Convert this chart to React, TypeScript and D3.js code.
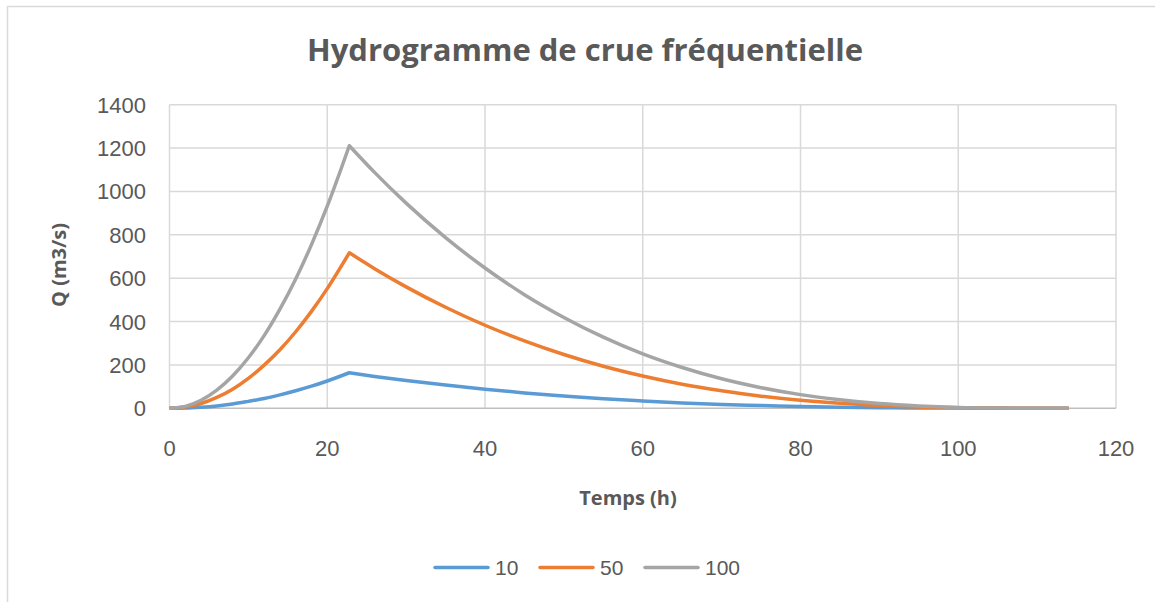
import { useRef, useEffect } from "react";
import * as d3 from "d3";

// temps (h) et debits (m3/s)
const tRise = [0, 2, 4, 6, 8, 10, 12, 14, 16, 18, 20, 22.8];
const tFall = [22.8, 26, 30, 35, 40, 45, 50, 55, 60, 65, 70, 75, 80, 85, 90, 95, 100, 105, 110, 114];

const q10Rise = [0, 1, 5, 11, 20, 32, 45, 62, 81, 102, 126, 164];
const q10Fall = [164, 147, 128, 107, 88, 71, 57, 44, 34, 25, 18, 13, 8, 5, 3, 1, 1, 0, 0, 0];

const q50Rise = [0, 6, 22, 50, 88, 138, 199, 270, 353, 447, 552, 717];
const q50Fall = [717, 644, 560, 466, 383, 311, 248, 194, 149, 111, 81, 56, 37, 23, 13, 6, 3, 1, 0, 0];

const q100Rise = [0, 9, 37, 84, 149, 233, 335, 457, 596, 755, 932, 1211];
const q100Fall = [1211, 1088, 946, 787, 647, 524, 419, 328, 251, 188, 136, 95, 63, 39, 22, 11, 4, 1, 0, 0];

const seriesNames = ["10", "50", "100"];
const seriesColors = ["#5b9bd5", "#ed7d31", "#a5a5a5"];
const xTicks = [0, 20, 40, 60, 80, 100, 120];
const yTicks = [0, 200, 400, 600, 800, 1000, 1200, 1400];

const W = 1155;
const H = 602;

export default function App() {
  const ref = useRef<SVGSVGElement>(null);

  useEffect(() => {
    const svg = d3.select(ref.current);
    svg.selectAll("*").remove();

    const left = 169.5, right = 1116, top = 104.7, bottom = 408.3;
    const x = d3.scaleLinear().domain([0, 120]).range([left, right]);
    const y = d3.scaleLinear().domain([0, 1400]).range([bottom, top]);

    // cadre exterieur
    svg.append("rect")
      .attr("x", 7.5).attr("y", 6.5)
      .attr("width", W + 20).attr("height", H + 20)
      .attr("fill", "white")
      .attr("stroke", "#d9d9d9").attr("stroke-width", 1.5);

    svg.append("text")
      .attr("x", 585).attr("y", 61)
      .attr("text-anchor", "middle")
      .attr("font-family", "Open Sans")
      .attr("font-weight", "bold")
      .attr("font-size", 31)
      .attr("fill", "#595959")
      .text("Hydrogramme de crue fréquentielle");

    // grille
    const grid = svg.append("g").attr("stroke", "#d9d9d9").attr("stroke-width", 1.5);
    grid.selectAll("line.h").data(yTicks.filter(v => v > 0)).join("line")
      .attr("class", "h")
      .attr("x1", left).attr("x2", right)
      .attr("y1", d => y(d)).attr("y2", d => y(d));
    grid.selectAll("line.v").data(xTicks).join("line")
      .attr("class", "v")
      .attr("y1", top).attr("y2", bottom)
      .attr("x1", d => x(d)).attr("x2", d => x(d));

    svg.append("line")
      .attr("x1", left).attr("x2", right)
      .attr("y1", bottom).attr("y2", bottom)
      .attr("stroke", "#bfbfbf").attr("stroke-width", 1.5);

    // ticks
    svg.append("g").selectAll("text").data(yTicks).join("text")
      .attr("x", 146).attr("y", d => y(d) + 8)
      .attr("text-anchor", "end")
      .attr("font-family", "Liberation Sans")
      .attr("font-size", 22)
      .attr("fill", "#595959")
      .text(d => d);

    svg.append("g").selectAll("text").data(xTicks).join("text")
      .attr("x", d => x(d)).attr("y", 456)
      .attr("text-anchor", "middle")
      .attr("font-family", "Liberation Sans")
      .attr("font-size", 22)
      .attr("fill", "#595959")
      .text(d => d);

    svg.append("text")
      .attr("transform", "translate(66,265) rotate(-90)")
      .attr("text-anchor", "middle")
      .attr("font-family", "Open Sans")
      .attr("font-weight", "bold")
      .attr("font-size", 20)
      .attr("fill", "#595959")
      .text("Q (m3/s)");

    svg.append("text")
      .attr("x", 628).attr("y", 505)
      .attr("text-anchor", "middle")
      .attr("font-family", "Open Sans")
      .attr("font-weight", "bold")
      .attr("font-size", 20)
      .attr("fill", "#595959")
      .text("Temps (h)");

    // courbes : montee et decrue tracees separement pour garder la pointe
    const line = d3.line<[number, number]>()
      .x(d => x(d[0])).y(d => y(d[1]))
      .curve(d3.curveMonotoneX);
    const series = [
      [q10Rise, q10Fall],
      [q50Rise, q50Fall],
      [q100Rise, q100Fall],
    ];
    series.forEach(([r, f], i) => {
      const a = line(tRise.map((t, k) => [t, r[k]] as [number, number]))!;
      const b = line(tFall.map((t, k) => [t, f[k]] as [number, number]))!;
      svg.append("path")
        .attr("d", a + b.replace(/^M/, "L"))
        .attr("fill", "none")
        .attr("stroke", seriesColors[i])
        .attr("stroke-width", 3.5)
        .attr("stroke-linejoin", "round");
    });

    // legende
    const legX = [435, 540, 645];
    const leg = svg.append("g");
    seriesNames.forEach((n, i) => {
      leg.append("line")
        .attr("x1", legX[i]).attr("x2", legX[i] + 53)
        .attr("y1", 567.5).attr("y2", 567.5)
        .attr("stroke", seriesColors[i]).attr("stroke-width", 3.5)
        .attr("stroke-linecap", "round");
      leg.append("text")
        .attr("x", legX[i] + 60).attr("y", 575)
        .attr("font-family", "Liberation Sans")
        .attr("font-size", 21)
        .attr("fill", "#595959")
        .text(n);
    });
  }, []);

  return (
    <svg ref={ref} width={W} height={H}
      style={{ position: "absolute", left: 0, top: 0, display: "block", background: "white" }} />
  );
}
